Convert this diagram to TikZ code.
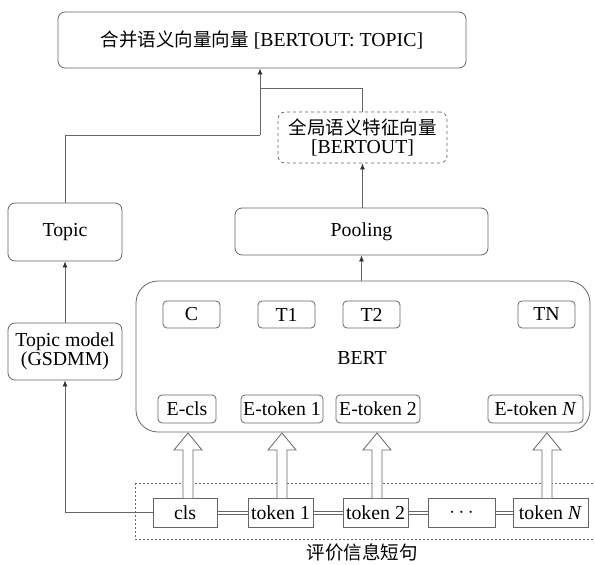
\documentclass[tikz,border=0pt]{standalone}
\usepackage{fontspec}
\setmainfont{Liberation Serif}
\newfontfamily\cjk{Noto Sans CJK SC}
\usetikzlibrary{arrows.meta}
\definecolor{linegray}{HTML}{666666}
\definecolor{tipgray}{HTML}{333333}
\newcommand{\myfs}{\fontsize{19.8}{23}\selectfont}
\tikzset{
  base/.style={draw=linegray, line width=0.8pt, inner sep=0pt, align=center, font=\myfs},
  rbox/.style={base, rounded corners=7pt},
  sbox/.style={base, rounded corners=4pt},
  pbox/.style={base},
  conn/.style={draw=linegray, line width=0.8pt, -{Latex[length=6pt,width=5pt,color=tipgray]}},
  plain/.style={draw=linegray, line width=0.8pt},
  thin/.style={draw=linegray, line width=0.7pt},
  hollow/.style={draw=linegray, line width=0.8pt, fill=white},
}
\begin{document}
\begin{tikzpicture}[x=1pt,y=-1pt]
\useasboundingbox (0,0) rectangle (595,565);
% top boxes
\node[rbox, minimum width=408pt, minimum height=56pt] (top) at (262,40) {{\cjk\fontsize{18.5}{22}\selectfont 合并语义向量向量} [BERTOUT: TOPIC]};
\node[rbox, dashed, minimum width=169pt, minimum height=51pt] (glob) at (362.5,137.5) {{\cjk\fontsize{18.5}{22}\selectfont 全局语义特征向量}\\[-4pt][BERTOUT]};
\node[rbox, minimum width=114pt, minimum height=58pt] (topic) at (65,232) {Topic};
\node[rbox, minimum width=253pt, minimum height=47pt] (pool) at (361.5,231.5) {Pooling};
\node[rbox, minimum width=114pt, minimum height=57pt] (tm) at (65,351.5) {Topic model\\[-4pt](GSDMM)};
% BERT
\node[base, rounded corners=22pt, minimum width=454pt, minimum height=151pt] (bert) at (363,356.5) {};
\node[font=\myfs, inner sep=0pt] (berttxt) at (362,358) {BERT};
\node[sbox, minimum width=57pt, minimum height=27pt] (c) at (191.5,314.5) {C};
\node[sbox, minimum width=57pt, minimum height=27pt] (t1) at (286.5,314.5) {T1};
\node[sbox, minimum width=57pt, minimum height=27pt] (t2) at (371.5,314.5) {T2};
\node[sbox, minimum width=57pt, minimum height=27pt] (tn) at (546.5,314.5) {TN};
\node[sbox, minimum width=58pt, minimum height=28pt] (ecls) at (187,409) {E-cls};
\node[sbox, minimum width=82pt, minimum height=28pt] (et1) at (282,409) {E-token 1};
\node[sbox, minimum width=84pt, minimum height=28pt] (et2) at (378,409) {E-token 2};
\node[sbox, minimum width=95pt, minimum height=28pt] (etn) at (535.5,409) {E-token \textit{N}};
% tokens
\draw[linegray, line width=0.8pt, dash pattern=on 2pt off 2pt] (135,483) rectangle (596,539);
\node[pbox, minimum width=64pt, minimum height=29pt] (cls) at (185,512.5) {cls};
\node[pbox, minimum width=65pt, minimum height=29pt] (tk1) at (280.5,512.5) {token 1};
\node[pbox, minimum width=65pt, minimum height=29pt] (tk2) at (375.5,512.5) {token 2};
\node[pbox, minimum width=67pt, minimum height=29pt] (dots) at (461.5,512.5) {$\cdots$};
\node[pbox, minimum width=75pt, minimum height=29pt] (tkn) at (550.5,512.5) {token \textit{N}};
\node[font=\cjk\fontsize{18.5}{22}\selectfont, inner sep=0pt] (lab) at (362,552) {评价信息短句};
% double links
\foreach \a/\b in {cls/tk1,tk1/tk2,tk2/dots,dots/tkn}{
  \draw[thin] ([yshift=1.6pt]\a.east) -- ([yshift=1.6pt]\b.west);
  \draw[thin] ([yshift=-1.6pt]\a.east) -- ([yshift=-1.6pt]\b.west);
}
% hollow arrows
\foreach \xx in {188,282,377,547}{
  \draw[hollow] (\xx-5,498) -- (\xx-5,450) -- (\xx-14,450) -- (\xx,433) -- (\xx+14,450) -- (\xx+5,450) -- (\xx+5,498);
}
% connectors
\coordinate (jl) at (65,512.5);
\draw[conn] (cls.west) -- (jl) -- (tm.south);
\draw[conn] (tm.north) -- (topic.south);
\coordinate (j1) at (65,135);
\coordinate (j2) at (260,135);
\coordinate (j3) at (260,88);
\coordinate (j4) at (362,88);
\draw[plain] (topic.north) -- (j1) -- (j2);
\draw[conn] (j2) -- (top.south -| j2);
\draw[plain] (glob.north -| j4) -- (j4) -- (j3);
\draw[conn] (bert.north -| pool.south) -- (pool.south);
\draw[conn] (pool.north -| glob.south) -- (glob.south);
\end{tikzpicture}
\end{document}
